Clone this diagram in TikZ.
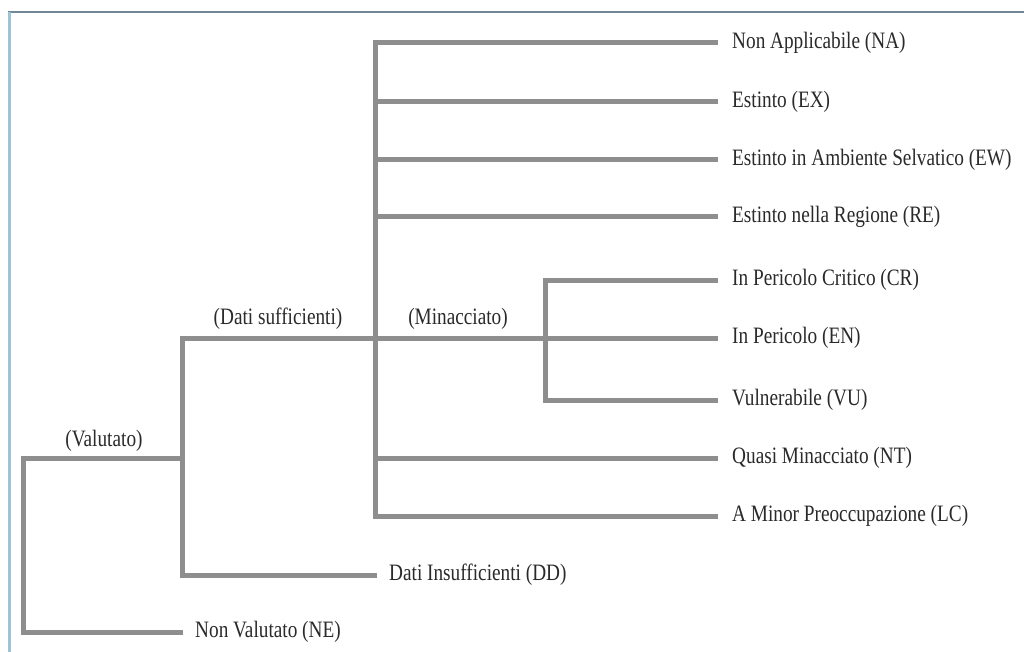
\documentclass[tikz,border=0pt]{standalone}
\usepackage{fontspec}
\setmainfont{Liberation Serif}[FakeStretch=0.82]
\definecolor{branch}{HTML}{8E8E8E}
\definecolor{txt}{HTML}{2A2A2A}
\definecolor{frametop}{HTML}{6F8797}
\definecolor{frameleft}{HTML}{9CC3D6}
\tikzset{
  br/.style={draw=branch, line width=5pt},
  leaf/.style={anchor=west, inner xsep=14pt, inner ysep=0pt, text=txt,
    font=\fontsize{23.5}{26}\selectfont},
  cat/.style={inner sep=0pt, text=txt, font=\fontsize{23.5}{26}\selectfont}
}
\begin{document}
\begin{tikzpicture}[x=1pt,y=-1pt]
\useasboundingbox (0,0) rectangle (1024,652);
\fill[white] (0,0) rectangle (1024,652);
% frame
\draw[frametop, line width=2pt] (8,12) -- (1024,12);
\draw[frameleft, line width=3pt] (9.5,12) -- (9.5,652);
% junctions
\coordinate (root) at (23,458);
\coordinate (val) at (182,458);
\coordinate (suf) at (375,338);
\coordinate (min) at (545,338);
% leaves
\node[leaf] (NA) at (718,43) {Non Applicabile (NA)};
\node[leaf] (EX) at (718,102) {Estinto (EX)};
\node[leaf] (EW) at (718,160) {Estinto in Ambiente Selvatico (EW)};
\node[leaf] (RE) at (718,217) {Estinto nella Regione (RE)};
\node[leaf] (CR) at (718,280) {In Pericolo Critico (CR)};
\node[leaf] (EN) at (718,338) {In Pericolo (EN)};
\node[leaf] (VU) at (718,400) {Vulnerabile (VU)};
\node[leaf] (NT) at (718,458) {Quasi Minacciato (NT)};
\node[leaf] (LC) at (718,516) {A Minor Preoccupazione (LC)};
\node[leaf, inner xsep=12pt] (DD) at (377,575) {Dati Insufficienti (DD)};
\node[leaf, inner xsep=12pt] (NE) at (183,632) {Non Valutato (NE)};
% branches
\draw[br] (NE.west) -| (root) -- (val);
\draw[br] (DD.west) -| (val) |- (suf);
\draw[br] (suf) -- (min) -- (EN.west);
\draw[br] (NA.west) -| (suf) |- (LC.west);
\foreach \n in {EX,EW,RE,NT} \draw[br] (suf |- \n.west) -- (\n.west);
\draw[br] (CR.west) -| (min) |- (VU.west);
% category labels
\node[cat] (lval) at (104,441) {(Valutato)};
\node[cat] (lsuf) at (278,319) {(Dati sufficienti)};
\node[cat] (lmin) at (458,319) {(Minacciato)};
\end{tikzpicture}
\end{document}
